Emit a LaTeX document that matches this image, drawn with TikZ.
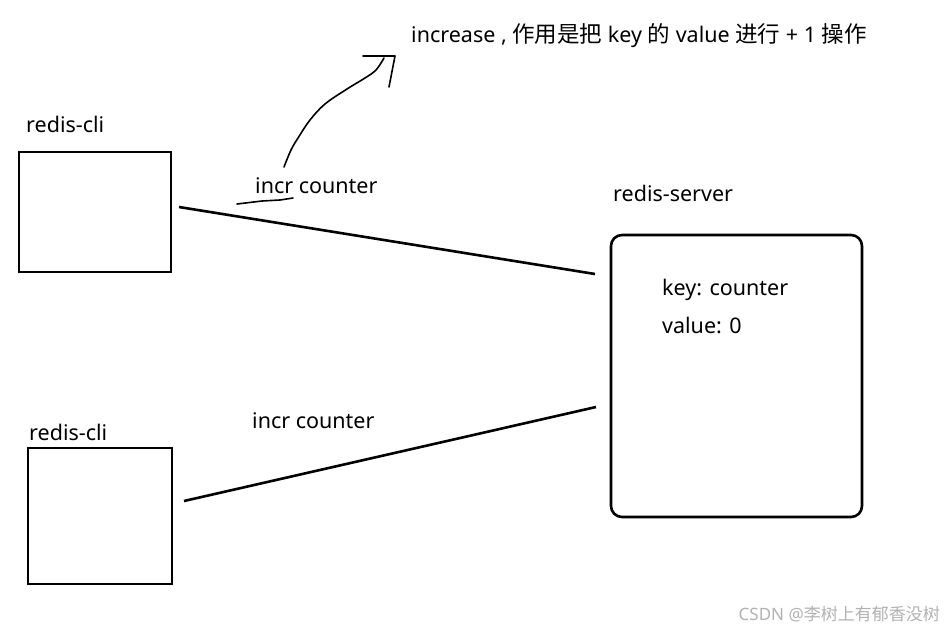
\documentclass[tikz,border=0pt]{standalone}
\usepackage{fontspec}
\setmainfont{Noto Sans}
\newfontfamily\cjk{Noto Sans CJK SC}
\begin{document}
\begin{tikzpicture}[x=1pt,y=-1pt,
  lbl/.style={font=\fontsize{21.5}{25}\selectfont, inner sep=0pt, anchor=west},
  client/.style={draw, line width=2.6pt, inner sep=0pt},
  link/.style={line width=2.6pt},
  pen/.style={line width=1.6pt, line cap=round, line join=round}]
  \useasboundingbox[fill=white] (0,0) rectangle (944,632);

  % clients
  \node[client, minimum width=152pt, minimum height=120pt] (c1) at (95,212) {};
  \node[client, minimum width=144pt, minimum height=136pt] (c2) at (100,516) {};
  \node[lbl] (c1l) at (26,124) {redis-cli};
  \node[lbl] (c2l) at (29,432) {redis-cli};

  % server
  \node[draw, line width=2.6pt, rounded corners=11pt, minimum width=251pt,
        minimum height=282pt, inner sep=0pt] (srv) at (736.5,376) {};
  \node[lbl] (srvl) at (613,193) {redis-server};
  \node[lbl] (k) at (662,290) {key: counter};
  \node[lbl] (v) at (662,325) {value: 0};

  % connections
  \coordinate (a1) at (179,207);
  \coordinate (b1) at (595,274);
  \coordinate (a2) at (184,501);
  \coordinate (b2) at (596,407);
  \draw[link] (a1) -- (b1);
  \draw[link] (a2) -- (b2);
  \node[lbl] (m1) at (255,186) {incr counter};
  \node[lbl] (m2) at (252,421) {incr counter};

  % hand-drawn underline and arrow
  \draw[pen] (237,204) -- (262,201) -- (280,200) -- (293,198);
  \coordinate (s) at (284,167);
  \coordinate (t) at (384,58);
  \draw[pen] plot[smooth, tension=0.6] coordinates {(284,167) (291,150) (298,138)
             (310,120) (325,104) (347,89) (365,78) (376,70) (384,58)};
  \coordinate (h) at (395,56);
  \draw[pen] (363,56) -- (h) -- (389,87);

  % note
  \node[lbl] (note) at (411,36) {increase , {\cjk\fontsize{22.5}{25}\selectfont 作用是把} key {\cjk\fontsize{22.5}{25}\selectfont 的} value {\cjk\fontsize{22.5}{25}\selectfont 进行} + 1 {\cjk\fontsize{22.5}{25}\selectfont 操作}};

  % watermark
  \node[font=\fontsize{17}{19}\selectfont, text=black!30, inner sep=0pt, anchor=east]
    (wm) at (940,614) {CSDN @{\cjk 李树上有郁香没树}};
\end{tikzpicture}
\end{document}
